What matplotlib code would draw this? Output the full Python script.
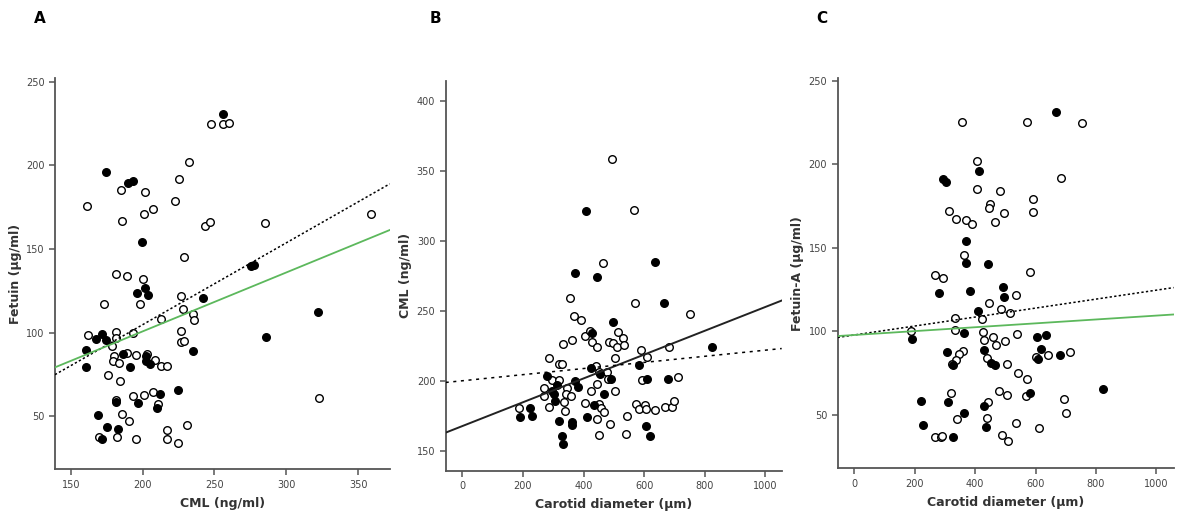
import matplotlib
matplotlib.use("Agg")
import matplotlib.pyplot as plt
import numpy as np

# ---- panel A: CML vs Fetuin ----
a_open_x = [161.4, 184.9, 185.6, 201.4, 201.2, 207.2, 222.6, 225.1, 232.6, 247.9, 255.8, 260.0,
            243.7, 246.7, 284.9, 359.1, 229.1, 181.2, 189.3, 200.0, 173.3, 198.4, 226.5, 228.1,
            212.6, 235.3, 235.8, 227.0, 227.0, 228.6, 162.3, 181.2, 181.2, 178.4, 193.5, 180.0,
            179.5, 183.5, 189.1, 195.6, 203.3, 208.8, 212.8, 217.2, 175.8, 184.0, 193.5, 201.0,
            207.0, 211.0, 181.6, 186.0, 190.7, 217.2, 230.9, 169.8, 182.3, 195.3, 216.7, 224.9,
            322.6]
a_open_y = [175.9, 185.1, 166.9, 184.1, 171.1, 173.9, 178.9, 192.0, 201.8, 224.5, 224.9, 225.3,
            163.9, 166.3, 165.7, 170.9, 145.2, 135.3, 133.7, 132.1, 117.1, 117.1, 121.7, 114.3,
            108.0, 111.0, 107.4, 101.2, 94.4, 95.0, 98.6, 100.2, 97.0, 92.0, 100.0, 86.0,
            83.0, 82.0, 88.0, 86.6, 87.6, 84.0, 80.2, 80.2, 74.8, 71.2, 62.0, 63.0,
            64.6, 57.4, 59.6, 51.2, 47.4, 42.2, 45.2, 38.0, 37.8, 36.6, 36.8, 34.4,
            61.2]
a_fill_x = [255.6, 174.4, 189.5, 193.0, 199.5, 195.8, 201.6, 203.7, 242.3, 275.3, 277.7, 322.1,
            285.8, 160.5, 160.7, 167.9, 171.6, 174.4, 186.3, 191.2, 202.1, 202.1, 205.3, 234.9,
            224.7, 211.9, 181.4, 197.0, 209.8, 169.1, 174.9, 182.8, 171.6]
a_fill_y = [230.7, 195.8, 189.4, 190.6, 154.4, 123.9, 126.7, 122.7, 120.7, 139.8, 140.4, 112.4,
            97.6, 89.8, 79.6, 96.4, 99.0, 95.6, 87.4, 79.6, 86.2, 83.4, 81.2, 88.8,
            66.0, 63.4, 58.4, 57.8, 55.2, 51.0, 44.0, 42.4, 36.8]
# fit lines (slope, intercept)
a_dotted = (0.489, 7.0)
a_green = (0.352, 30.4)

# ---- panel B: carotid diameter vs CML ----
b_open_x = [494, 565, 465, 356, 571, 752, 368, 391, 363, 331, 406, 421, 429, 445, 485, 498,
            512, 515, 531, 533, 505, 590, 609, 681, 286, 318, 330, 440, 451, 479, 482, 592,
            712, 270, 295, 320, 347, 342, 359, 270, 336, 339, 287, 187, 424, 443, 503, 404,
            452, 457, 467, 445, 487, 451, 542, 539, 572, 583, 604, 606, 637, 670, 693, 700]
b_open_y = [358.2, 321.6, 283.8, 259.1, 255.5, 247.6, 246.2, 243.6, 229.1, 226.7, 232.2, 235.7,
            228.1, 224.6, 227.9, 227.0, 224.6, 234.8, 230.5, 225.8, 216.5, 222.2, 217.0, 224.4,
            216.7, 212.5, 212.5, 210.8, 206.8, 206.8, 201.3, 200.9, 203.2, 195.2, 200.4, 201.1,
            195.2, 190.9, 189.2, 189.0, 185.4, 179.0, 181.6, 180.9, 193.2, 198.2, 193.2, 184.7,
            183.7, 180.9, 178.0, 172.8, 169.5, 161.2, 175.4, 162.1, 183.7, 180.4, 183.0, 180.4,
            179.7, 181.6, 181.4, 185.6]
b_fill_x = [409, 371, 443, 636, 666, 497, 428, 582, 426, 454, 278, 371, 311, 383, 490, 609,
            680, 823, 296, 303, 307, 466, 435, 222, 190, 230, 320, 362, 363, 412, 329, 333,
            606, 620]
b_fill_y = [320.9, 276.7, 274.3, 284.8, 255.5, 242.4, 234.6, 211.5, 209.6, 205.1, 203.7, 199.7,
            197.3, 195.9, 201.3, 201.3, 201.7, 224.1, 193.2, 190.9, 186.1, 190.9, 182.8, 181.1,
            174.2, 174.9, 171.6, 171.1, 169.0, 174.2, 160.7, 155.2, 167.6, 160.5]
b_solid = (0.0849, 167.9)
b_dotted = (0.0218, 200.2)

# ---- panel C: carotid diameter vs Fetuin-A ----
c_open_x = [357, 571, 754, 407, 683, 406, 481, 315, 337, 369, 390, 450, 446, 466, 495, 591,
            593, 362, 266, 295, 583, 534, 445, 486, 514, 332, 422, 187, 332, 426, 431, 458,
            469, 500, 539, 360, 347, 338, 325, 506, 543, 573, 602, 640, 713, 319, 480, 505,
            567, 694, 702, 442, 438, 339, 534, 610, 269, 287, 291, 488, 509, 441]
c_open_y = [225.5, 225.1, 224.8, 202.0, 192.0, 185.2, 184.2, 172.3, 167.1, 166.5, 164.3, 176.2,
            173.9, 165.7, 171.1, 179.0, 171.3, 145.5, 133.7, 132.1, 135.3, 121.8, 117.2, 113.5,
            111.0, 108.0, 107.4, 100.0, 101.0, 99.6, 95.0, 97.0, 92.0, 94.2, 98.6, 88.2,
            86.3, 83.1, 80.3, 80.3, 74.9, 71.3, 84.7, 85.9, 87.5, 63.1, 64.7, 62.2,
            61.2, 59.6, 51.2, 57.6, 48.0, 47.6, 45.4, 42.4, 36.8, 37.0, 37.6, 38.0,
            34.5, 83.9]
c_fill_x = [667, 293, 305, 413, 370, 371, 444, 383, 280, 492, 497, 411, 362, 190, 308, 431,
            328, 454, 466, 604, 636, 617, 608, 680, 823, 581, 220, 310, 429, 363, 229, 436, 326]
c_fill_y = [230.9, 191.2, 189.6, 196.0, 154.3, 140.7, 140.1, 124.0, 123.0, 126.7, 120.8, 112.4,
            98.8, 95.4, 87.5, 88.8, 79.7, 81.1, 79.7, 96.6, 97.8, 89.6, 83.5, 85.7,
            65.9, 63.3, 58.2, 58.0, 55.2, 51.2, 44.0, 42.8, 37.0]
c_dotted = (0.0268, 97.9)
c_green = (0.0116, 97.9)

grey = '#555555'


def style(ax, xlim, ylim, xticks, yticks, xlabel, ylabel):
    ax.set_xlim(xlim)
    ax.set_ylim(ylim)
    ax.set_xticks(xticks)
    ax.set_yticks(yticks)
    for s in ['top', 'right']:
        ax.spines[s].set_visible(False)
    for s in ['left', 'bottom']:
        ax.spines[s].set_color(grey)
        ax.spines[s].set_linewidth(1.3)
    ax.tick_params(direction='out', length=4, width=1.1, color=grey,
                   labelsize=7, labelcolor='#444444')
    ax.set_xlabel(xlabel, fontsize=9, fontweight='bold', color='#333333', labelpad=5)
    ax.set_ylabel(ylabel, fontsize=9, fontweight='bold', color='#333333', labelpad=3)


def points(ax, ox, oy, fx, fy):
    ax.scatter(ox, oy, s=30, facecolors='white', edgecolors='black', linewidths=1.0, zorder=3)
    ax.scatter(fx, fy, s=30, facecolors='black', edgecolors='black', linewidths=1.0, zorder=3)


def fitline(ax, coef, **kw):
    x0, x1 = ax.get_xlim()
    xs = np.array([x0, x1])
    ax.plot(xs, coef[0] * xs + coef[1], zorder=4, **kw)


fig = plt.figure(figsize=(12, 5.32), dpi=100)
axA = fig.add_axes([0.0458, 0.118, 0.279, 0.735])
axB = fig.add_axes([0.3714, 0.115, 0.280, 0.733])
axC = fig.add_axes([0.698, 0.120, 0.280, 0.733])

style(axA, (139, 372), (18.5, 252), [150, 200, 250, 300, 350], [50, 100, 150, 200, 250],
      'CML (ng/ml)', 'Fetuin (µg/ml)')
points(axA, a_open_x, a_open_y, a_fill_x, a_fill_y)
fitline(axA, a_dotted, color='black', lw=1.1, linestyle=(0, (1.5, 1.5)))
fitline(axA, a_green, color='#5cb85c', lw=1.3)

style(axB, (-55, 1054), (136, 414), [0, 200, 400, 600, 800, 1000], [150, 200, 250, 300, 350, 400],
      'Carotid diameter (µm)', 'CML (ng/ml)')
points(axB, b_open_x, b_open_y, b_fill_x, b_fill_y)
fitline(axB, b_solid, color='#222222', lw=1.4)
fitline(axB, b_dotted, color='black', lw=1.1, linestyle=(0, (2, 3)))

style(axC, (-55, 1057), (18.3, 251.4), [0, 200, 400, 600, 800, 1000], [50, 100, 150, 200, 250],
      'Carotid diameter (µm)', 'Fetuin-A (µg/ml)')
points(axC, c_open_x, c_open_y, c_fill_x, c_fill_y)
fitline(axC, c_dotted, color='black', lw=1.1, linestyle=(0, (1.5, 1.5)))
fitline(axC, c_green, color='#5cb85c', lw=1.3)

for lab, x in [('A', 0.033), ('B', 0.363), ('C', 0.685)]:
    fig.text(x, 0.965, lab, fontsize=11, fontweight='bold', va='center', ha='center')

fig.savefig('out.png', dpi=100, facecolor='white')
